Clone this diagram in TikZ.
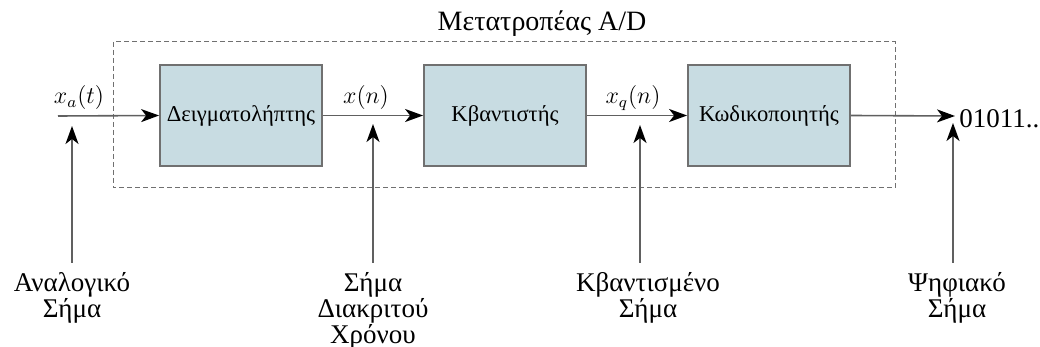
\documentclass[tikz,border=0pt]{standalone}
\usepackage{fontspec}
\setmainfont{Liberation Serif}
\usetikzlibrary{arrows.meta}
\definecolor{boxfill}{HTML}{C8DCE2}
\definecolor{boxline}{HTML}{707070}
\definecolor{linegray}{HTML}{606060}
\begin{document}
\begin{tikzpicture}[x=0.5pt,y=-0.5pt,
  blockbox/.style={draw=boxline,fill=boxfill,line width=0.9pt,minimum width=81pt,minimum height=50.5pt,inner sep=0pt,font=\fontsize{11.3}{12}\selectfont},
  conn/.style={draw=linegray,line width=0.8pt,-{Stealth[length=9pt,width=6.5pt,inset=2.5pt,black]}},
  siglabel/.style={font=\fontsize{12}{12}\selectfont},
  botlabel/.style={align=center,anchor=north,inner sep=0pt,font=\fontsize{13.5}{13}\selectfont},
  frame/.style={draw=boxline,dashed,line width=0.5pt,dash pattern=on 2.5pt off 1.5pt}]
\useasboundingbox (0,0) rectangle (1040,347);
\draw[frame] (113,42) rectangle (895,188);
\node[font=\fontsize{14}{16}\selectfont] (title) at (542,24) {Μετατροπέας A/D};
\node[blockbox] (b1) at (241,115.5) {Δειγματολήπτης};
\node[blockbox] (b2) at (505,115.5) {Κβαντιστής};
\node[blockbox] (b3) at (769,115.5) {Κωδικοποιητής};
\coordinate (in) at (58,116);
\coordinate (out) at (955,116);
\node[anchor=west,inner sep=0pt,font=\fontsize{13.5}{14}\selectfont] (bits) at (959,119) {01011..};
\node[siglabel] (lxa) at (79,98) {$x_a(t)$};
\node[siglabel] (lxn) at (366,98) {$x(n)$};
\node[siglabel] (lxq) at (633,98) {$x_q(n)$};
\draw[conn] (in) -- (b1.west);
\draw[conn] (b1.east) -- (b2.west);
\draw[conn] (b2.east) -- (b3.west);
\draw[conn] (b3.east) -- (out);
\coordinate (v1b) at (72,263); \coordinate (v1t) at (72,126);
\coordinate (v2b) at (373,263); \coordinate (v2t) at (373,124);
\coordinate (v3b) at (640,263); \coordinate (v3t) at (640,125);
\coordinate (v4b) at (953,263); \coordinate (v4t) at (953,123);
\draw[conn] (v1b) -- (v1t);
\draw[conn] (v2b) -- (v2t);
\draw[conn] (v3b) -- (v3t);
\draw[conn] (v4b) -- (v4t);
\node[botlabel] (l1) at (72,272) {Αναλογικό\\Σήμα};
\node[botlabel] (l2) at (373,272) {Σήμα\\Διακριτού\\Χρόνου};
\node[botlabel] (l3) at (648,272) {Κβαντισμένο\\Σήμα};
\node[botlabel] (l4) at (957,272) {Ψηφιακό\\Σήμα};
\end{tikzpicture}
\end{document}
